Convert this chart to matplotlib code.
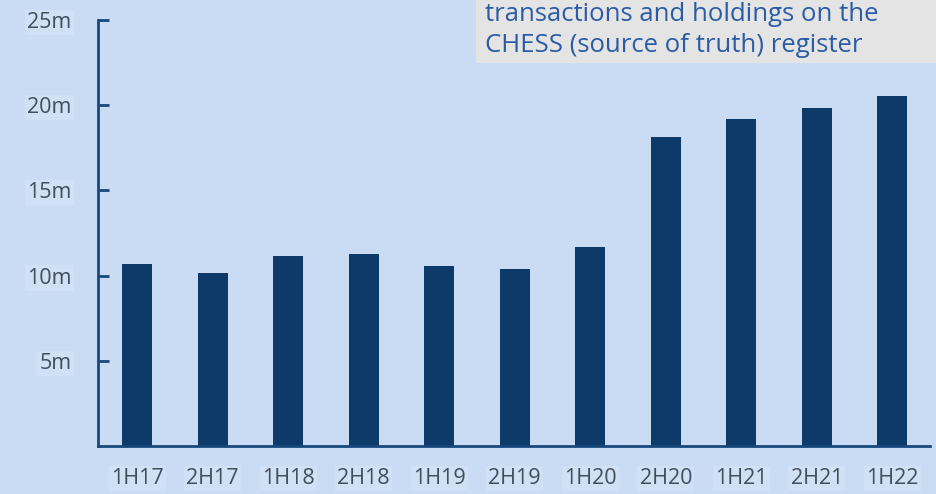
import matplotlib
matplotlib.use("Agg")
import matplotlib.pyplot as plt
from matplotlib.patches import Rectangle

categories = ["1H17", "2H17", "1H18", "2H18", "1H19", "2H19", "1H20", "2H20", "1H21", "2H21", "1H22"]
values_m = [10.68, 10.15, 11.15, 11.27, 10.56, 10.39, 11.68, 18.13, 19.19, 19.84, 20.54]
yticks = [5, 10, 15, 20, 25]
ytick_labels = ["5m", "10m", "15m", "20m", "25m"]
note_lines = ["transactions and holdings on the", "CHESS (source of truth) register"]

bg = "#cadcf3"
bar_color = "#0e3a6a"
axis_color = "#17487c"
label_color = "#414e5c"

plt.rcParams["font.family"] = ["Open Sans", "DejaVu Sans"]

fig = plt.figure(figsize=(9.37, 4.94), dpi=100, facecolor=bg)
ax = fig.add_axes([0.1046, 0.0972, 0.888, 0.8623])
ax.set_facecolor(bg)

x = list(range(len(categories)))
ax.bar(x, values_m, width=0.4, color=bar_color, zorder=2)

ax.set_xlim(-0.52, 10.5)
ax.set_ylim(0, 25)
ax.set_yticks(yticks)
ax.set_yticklabels(ytick_labels)
ax.set_xticks(x)
ax.set_xticklabels(categories)

for s in ["top", "right"]:
    ax.spines[s].set_visible(False)
for s in ["left", "bottom"]:
    ax.spines[s].set_color(axis_color)
    ax.spines[s].set_linewidth(2)

ax.tick_params(axis="y", direction="in", length=8, width=2, color=axis_color,
               labelsize=15.5, labelcolor=label_color, pad=19)
ax.tick_params(axis="x", length=0, labelsize=15.5, labelcolor=label_color, pad=16)

for lab in ax.get_xticklabels() + ax.get_yticklabels():
    lab.set_bbox(dict(facecolor="#d1e0f4", edgecolor="none", pad=1.5))

# note box at top right
fig.patches.append(Rectangle((476 / 937, 1 - 63 / 494), 1 - 476 / 937, 63 / 494,
                             transform=fig.transFigure, facecolor="#e4e4e4",
                             edgecolor="none", zorder=5))
fig.text(485 / 937, 1 - 52 / 494, note_lines[1], fontsize=18.5, color="#2a5ca6",
         ha="left", va="baseline", zorder=6)
fig.text(485 / 937, 1 - 21 / 494, note_lines[0], fontsize=18.5, color="#2a5ca6",
         ha="left", va="baseline", zorder=6)

fig.savefig("out.png", dpi=100, facecolor=bg)
